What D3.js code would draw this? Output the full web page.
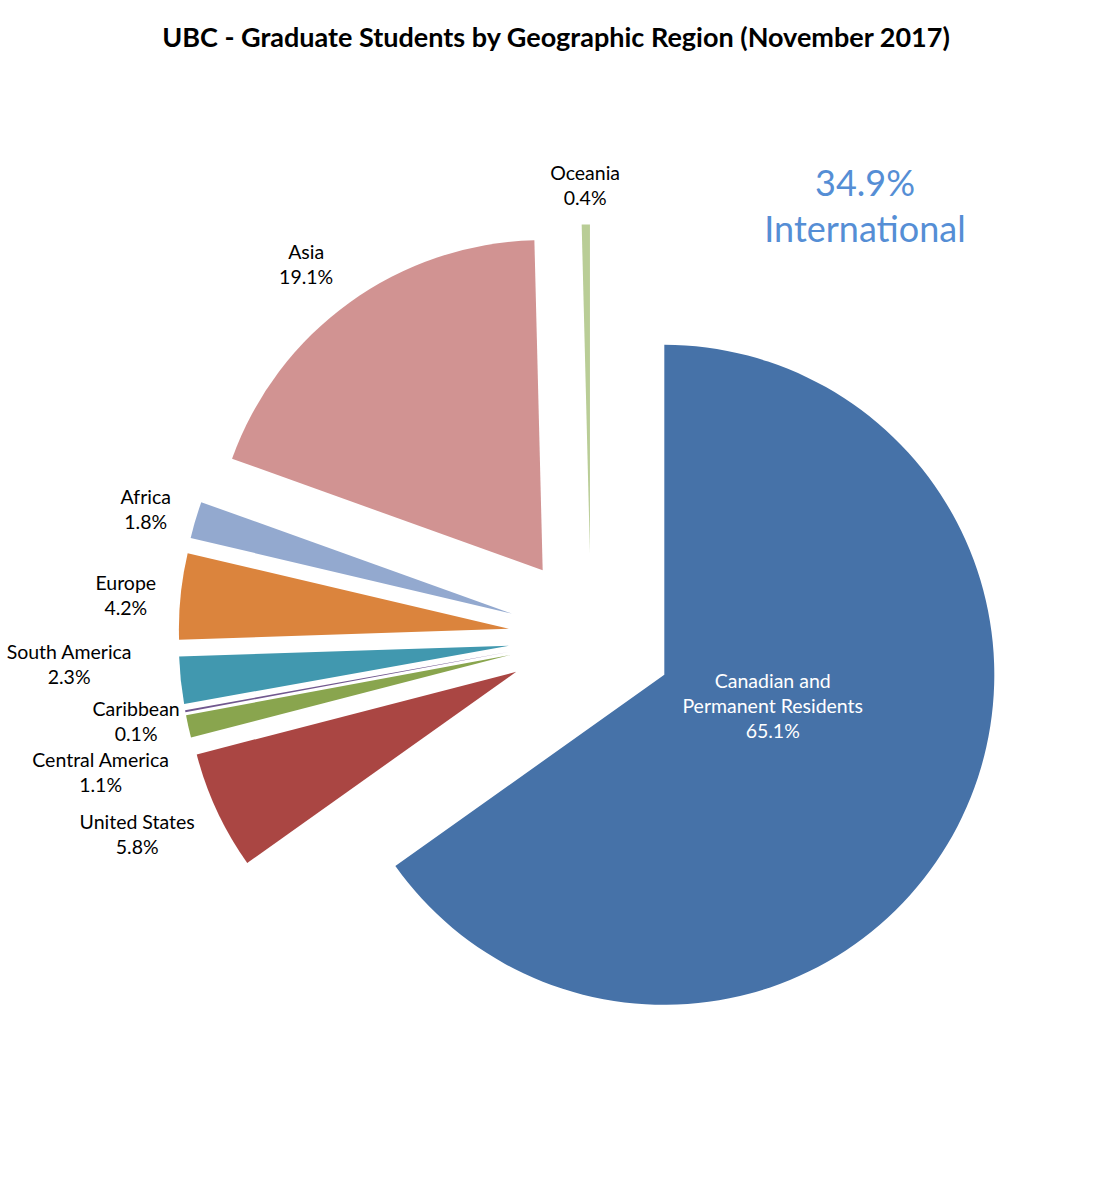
<!DOCTYPE html>
<html>
<head>
<meta charset="utf-8">
<script src="https://cdn.jsdelivr.net/npm/d3@7"></script>
<style>
  body { margin: 0; background: #fff; }
  svg { display: block; }
</style>
</head>
<body>
<script>
// data
const regions = ["Canadian and\nPermanent Residents", "United States", "Central America", "Caribbean",
                 "South America", "Europe", "Africa", "Asia", "Oceania"];
const shares = [65.1, 5.8, 1.1, 0.1, 2.3, 4.2, 1.8, 19.1, 0.4];
const sliceColors = ["#4672A8", "#AA4643", "#89A54E", "#71588F", "#4198AF",
                     "#DB843D", "#93A9CF", "#D19392", "#B9CD96"];
const internationalShare = 34.9;

// label tweaks (Excel had them dragged around a bit)
const labelNudge = [[8, -21], [-30, 0], [-34, 34], [5, 0], [-57, -22], [0, 4], [3, 5], [-11, 6], [0, 15]];

const width = 1112, height = 1193;
const cx = 591, cy = 637;
const radius = 330;
const explode = 82.5;      // 25% of radius, every slice
const labelR = 385;        // outside labels, from the exploded vertex
const insideR = 113;

const svg = d3.select("body").append("svg")
    .attr("width", width)
    .attr("height", height);

svg.append("text")
    .attr("x", 556)
    .attr("y", 36)
    .attr("text-anchor", "middle")
    .attr("dominant-baseline", "central")
    .attr("font-family", "Lato, 'Open Sans', sans-serif")
    .attr("font-weight", "bold")
    .attr("font-size", "27px")
    .attr("fill", "#000")
    .text("UBC - Graduate Students by Geographic Region (November 2017)");

const pie = d3.pie().sort(null).value(d => d)
    .startAngle(0).endAngle(2 * Math.PI);
const arcs = pie(shares);

const arc = d3.arc().innerRadius(0).outerRadius(radius);

function dir(d) {
    const a = (d.startAngle + d.endAngle) / 2;
    return [Math.sin(a), -Math.cos(a)];
}

const g = svg.append("g").attr("transform", "translate(" + cx + "," + cy + ")");

g.selectAll(".slice")
    .data(arcs)
    .join("path")
    .attr("class", "slice")
    .attr("transform", function(d){
        const v = dir(d);
        return "translate(" + (v[0] * explode) + "," + (v[1] * explode) + ")";
    })
    .attr("d", arc)
    .attr("fill", (d, i) => sliceColors[i]);

const labels = g.selectAll(".lbl")
    .data(arcs)
    .join("text")
    .attr("class", "lbl")
    .attr("text-anchor", "middle")
    .attr("font-family", "Lato, 'Open Sans', sans-serif")
    .attr("font-size", "19.5px")
    .attr("fill", (d, i) => i === 0 ? "#fff" : "#000")
    .each(function(d, i){
        const v = dir(d);
        const r = i === 0 ? explode + insideR : explode + labelR;
        const x = v[0] * r + labelNudge[i][0];
        const y = v[1] * r + labelNudge[i][1];
        const lines = regions[i].split("\n").concat([d3.format(".1f")(shares[i]) + "%"]);
        const t = d3.select(this);
        lines.forEach(function(line, k){
            t.append("tspan")
                .attr("x", x)
                .attr("y", y + (k - (lines.length - 1) / 2) * 25)
                .attr("dominant-baseline", "central")
                .text(line);
        });
    });

svg.append("text")
    .attr("x", 865)
    .attr("text-anchor", "middle")
    .attr("font-family", "Lato, 'Open Sans', sans-serif")
    .attr("font-size", "36px")
    .attr("fill", "#558ED5")
    .selectAll("tspan")
    .data([internationalShare.toFixed(1) + "%", "International"])
    .join("tspan")
    .attr("x", 865)
    .attr("y", (d, i) => 182 + i * 46)
    .attr("dominant-baseline", "central")
    .text(d => d);
</script>
</body>
</html>
